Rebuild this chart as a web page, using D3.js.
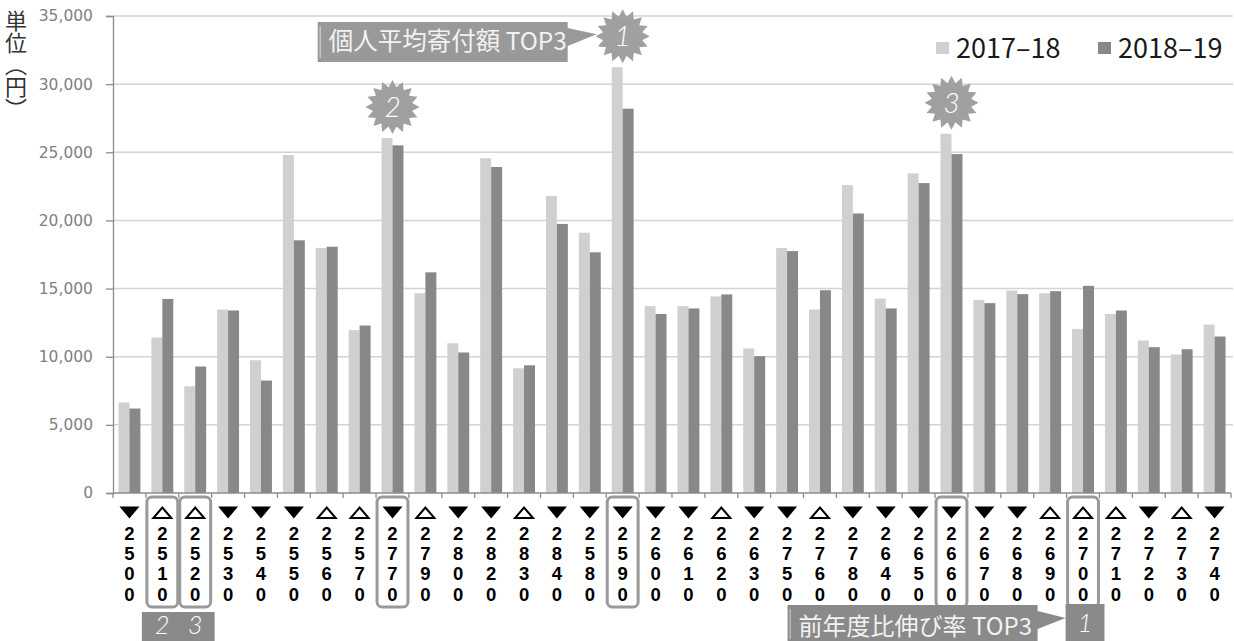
<!DOCTYPE html>
<html>
<head>
<meta charset="utf-8">
<script src="https://cdn.jsdelivr.net/npm/d3@7"></script>
<style>
  html, body { margin: 0; padding: 0; background: #fff; }
  svg { display: block; }
</style>
</head>
<body>
<script>
// 個人平均寄付額 (円) by district code
const categories = ["2500","2510","2520","2530","2540","2550","2560","2570","2770","2790","2800","2820","2830","2840","2580","2590","2600","2610","2620","2630","2750","2760","2780","2640","2650","2660","2670","2680","2690","2700","2710","2720","2730","2740"];
const fy1718 = [6640,11410,7830,13460,9740,24800,17980,11950,26050,14660,10990,24560,9150,21790,19100,31240,13710,13710,14420,10600,17970,13460,22590,14270,23450,26360,14170,14860,14660,12040,13140,11190,10160,12360];
const fy1819 = [6200,14240,9280,13390,8250,18540,18070,12290,25510,16190,10310,23920,9370,19740,17660,28200,13140,13540,14570,10040,17750,14880,20510,13540,22740,24870,13930,14590,14810,15200,13390,10700,10550,11480];
const seriesNames = ["2017\u201318", "2018\u201319"];
const yTicks = [0, 5000, 10000, 15000, 20000, 25000, 30000, 35000];

const W = 1234, H = 641;
const plotLeft = 113, plotRight = 1231, plotTop = 16, plotBottom = 493;
const colLight = "#d0d0d0", colDark = "#888888", calloutFill = "#999999";

const svg = d3.select("body").append("svg").attr("width", W).attr("height", H);

const x = d3.scaleBand().domain(categories).range([plotLeft, plotRight]).padding(0);
const xs = d3.scaleBand().domain([0, 1]).range([0, x.bandwidth()]).paddingInner(0).paddingOuter(0.5);
const y = d3.scaleLinear().domain([0, 35000]).range([plotBottom, plotTop]);

// gridlines
svg.append("g").selectAll("line").data(yTicks.filter(d => d > 0)).join("line")
  .attr("x1", plotLeft).attr("x2", plotRight + 2)
  .attr("y1", d => y(d)).attr("y2", d => y(d))
  .attr("stroke", "#d4d4d4").attr("stroke-width", 1.5);

// y axis
const yAxis = svg.append("g").attr("transform", `translate(${plotLeft},0)`)
  .call(d3.axisLeft(y).tickValues(yTicks).tickFormat(d3.format(",")).tickSize(7).tickPadding(13));
yAxis.select(".domain").attr("stroke", "#8c8c8c").attr("stroke-width", 1.3);
yAxis.selectAll(".tick line").attr("stroke", "#8c8c8c").attr("stroke-width", 1.3);
yAxis.selectAll(".tick text").attr("fill", "#7f7f7f")
  .style("font-family", "'DejaVu Sans', Verdana, sans-serif").style("font-size", "15.5px");

// y axis unit title
svg.append("text").attr("x", 16).attr("y", 10)
  .style("writing-mode", "vertical-rl")
  .style("font-family", "'Noto Sans CJK JP', sans-serif").style("font-size", "22px")
  .attr("fill", "#333").text("単位（円）");

// bars
const rows = categories.map((c, i) => ({ c, vals: [fy1718[i], fy1819[i]] }));
const g = svg.append("g");
g.selectAll("g").data(rows).join("g")
  .attr("transform", d => `translate(${x(d.c)},0)`)
  .selectAll("rect").data(d => d.vals.map((v, k) => ({ v, k }))).join("rect")
  .attr("x", d => xs(d.k)).attr("width", xs.bandwidth())
  .attr("y", d => y(d.v)).attr("height", d => y(0) - y(d.v))
  .attr("fill", d => d.k === 0 ? colLight : colDark);

// x axis baseline with category ticks
svg.append("line").attr("x1", plotLeft).attr("x2", plotRight)
  .attr("y1", plotBottom).attr("y2", plotBottom).attr("stroke", "#8c8c8c").attr("stroke-width", 1.3);
svg.append("g").selectAll("line").data(d3.range(categories.length + 1)).join("line")
  .attr("x1", i => plotLeft + i * x.step()).attr("x2", i => plotLeft + i * x.step())
  .attr("y1", plotBottom).attr("y2", plotBottom + 5).attr("stroke", "#8c8c8c").attr("stroke-width", 1.3);

// x labels: change marker and vertical digits
const lab = svg.append("g").selectAll("g").data(rows).join("g")
  .attr("transform", d => `translate(${x(d.c) + x.bandwidth() / 2},0)`);
lab.append("path")
  .attr("d", d => d.vals[1] >= d.vals[0]
    ? "M-9,518 L9,518 L0,507.5 Z"
    : "M-10,506.5 L10,506.5 L0,518.5 Z")
  .attr("fill", d => d.vals[1] >= d.vals[0] ? "none" : "#000")
  .attr("stroke", "#000").attr("stroke-width", d => d.vals[1] >= d.vals[0] ? 2 : 0);
lab.each(function (d) {
  const sel = d3.select(this);
  d.c.split("").forEach((ch, j) => {
    sel.append("text").attr("x", 0).attr("y", 540 + j * 20.2)
      .attr("text-anchor", "middle")
      .style("font-family", "'Liberation Sans', Arial, sans-serif")
      .style("font-weight", "bold").style("font-size", "18.5px")
      .attr("fill", "#000").text(ch);
  });
});

// rankings
const avgRank = d3.range(categories.length).sort((a, b) => fy1819[b] - fy1819[a]).slice(0, 3);
const growthRank = d3.range(categories.length).sort((a, b) => fy1819[b] / fy1718[b] - fy1819[a] / fy1718[a]).slice(0, 3);

// highlight boxes around labels
svg.append("g").selectAll("rect").data([...new Set([...avgRank, ...growthRank])]).join("rect")
  .attr("x", i => x(categories[i]) + 1).attr("width", x.bandwidth() - 2)
  .attr("y", 497).attr("height", 110).attr("rx", 5)
  .attr("fill", "none").attr("stroke", "#9a9a9a").attr("stroke-width", 3);

// starburst badges
function starPath(n, R, r) {
  const pts = [];
  for (let i = 0; i < n * 2; i++) {
    const a = Math.PI * i / n - Math.PI / 2;
    const rad = i % 2 === 0 ? R : r;
    pts.push([rad * Math.cos(a), rad * Math.sin(a)]);
  }
  return "M" + pts.map(p => p.join(",")).join("L") + "Z";
}
const numStyle = s => s.style("font-family", "Lato, 'DejaVu Sans', sans-serif")
  .style("font-style", "italic").style("font-weight", "300").attr("fill", "#fff");

const stars = avgRank.map((i, k) => ({
  rank: k + 1,
  cx: x(categories[i]) + x.bandwidth() / 2,
  cy: y(Math.max(fy1718[i], fy1819[i])) - 31
}));
const sg = svg.append("g").selectAll("g").data(stars).join("g")
  .attr("transform", d => `translate(${d.cx},${d.cy})`);
sg.append("path").attr("d", starPath(16, 27, 20)).attr("fill", "#a0a0a0");
sg.append("text").attr("x", 0).attr("y", 10).attr("text-anchor", "middle")
  .style("font-size", "28px").call(numStyle).text(d => d.rank);

// top callout
const s1 = stars[0];
const tb = { x0: s1.cx - 305, x1: s1.cx - 55, y0: 22, y1: 62 };
svg.append("path")
  .attr("d", `M${tb.x0},${tb.y0} H${tb.x1} V${tb.y0 + 6} L${s1.cx - 26},${s1.cy - 2} L${tb.x1},${tb.y0 + 24} V${tb.y1} H${tb.x0} Z`)
  .attr("fill", calloutFill);
svg.append("line").attr("x1", tb.x0 + 2.5).attr("x2", tb.x0 + 2.5).attr("y1", tb.y0 + 4).attr("y2", tb.y1 - 4)
  .attr("stroke", "#dcdcdc").attr("stroke-width", 1);
svg.append("text").attr("x", tb.x0 + 11).attr("y", tb.y1 - 12)
  .style("font-family", "'Noto Sans CJK JP', sans-serif").style("font-size", "24.5px")
  .attr("fill", "#f2f2f2").text("個人平均寄付額 TOP3");

// bottom: growth-rate ranks
const g1 = growthRank[0];
const b1 = { x0: x(categories[g1]) - 1, x1: x(categories[g1]) + x.bandwidth() + 5, y0: 604, y1: H };
svg.append("rect").attr("x", b1.x0).attr("y", b1.y0).attr("width", b1.x1 - b1.x0).attr("height", b1.y1 - b1.y0)
  .attr("fill", "#8a8a8a");
svg.append("text").attr("x", (b1.x0 + b1.x1) / 2).attr("y", 632).attr("text-anchor", "middle")
  .style("font-size", "25px").call(numStyle).text("1");

const bb = { x0: b1.x0 - 278, x1: b1.x0 - 28, y0: 605, y1: H };
svg.append("path")
  .attr("d", `M${bb.x0},${bb.y0} H${bb.x1} V${bb.y0 + 6} L${b1.x0},618 L${bb.x1},${bb.y0 + 24} V${bb.y1} H${bb.x0} Z`)
  .attr("fill", "#8a8a8a");
svg.append("line").attr("x1", bb.x0 + 2.5).attr("x2", bb.x0 + 2.5).attr("y1", bb.y0 + 4).attr("y2", bb.y1 - 2)
  .attr("stroke", "#d0d0d0").attr("stroke-width", 1);
svg.append("text").attr("x", bb.x0 + 11).attr("y", 634.5)
  .style("font-family", "'Noto Sans CJK JP', sans-serif").style("font-size", "24px")
  .attr("fill", "#f2f2f2").text("前年度比伸び率 TOP3");

const rest = growthRank.slice(1);
const rx0 = d3.min(rest, i => x(categories[i])) - 4;
const rx1 = d3.max(rest, i => x(categories[i])) + x.bandwidth() + 3;
svg.append("rect").attr("x", rx0).attr("y", 612).attr("width", rx1 - rx0).attr("height", H - 612)
  .attr("fill", "#8a8a8a");
svg.append("g").selectAll("text").data(rest).join("text")
  .attr("x", i => x(categories[i]) + x.bandwidth() / 2).attr("y", 634).attr("text-anchor", "middle")
  .style("font-size", "25px").call(numStyle).text((i) => growthRank.indexOf(i) + 1);

// legend
const leg = svg.append("g").selectAll("g").data(seriesNames).join("g")
  .attr("transform", (d, i) => `translate(${i === 0 ? 936 : 1098},0)`);
leg.append("rect").attr("x", 0).attr("y", 42).attr("width", 13).attr("height", 12)
  .attr("fill", (d, i) => i === 0 ? colLight : colDark);
leg.append("text").attr("x", 20).attr("y", 58)
  .style("font-family", "'Noto Sans CJK JP', sans-serif").style("font-size", "27px")
  .attr("fill", "#1a1a1a").text(d => d);
</script>
</body>
</html>
